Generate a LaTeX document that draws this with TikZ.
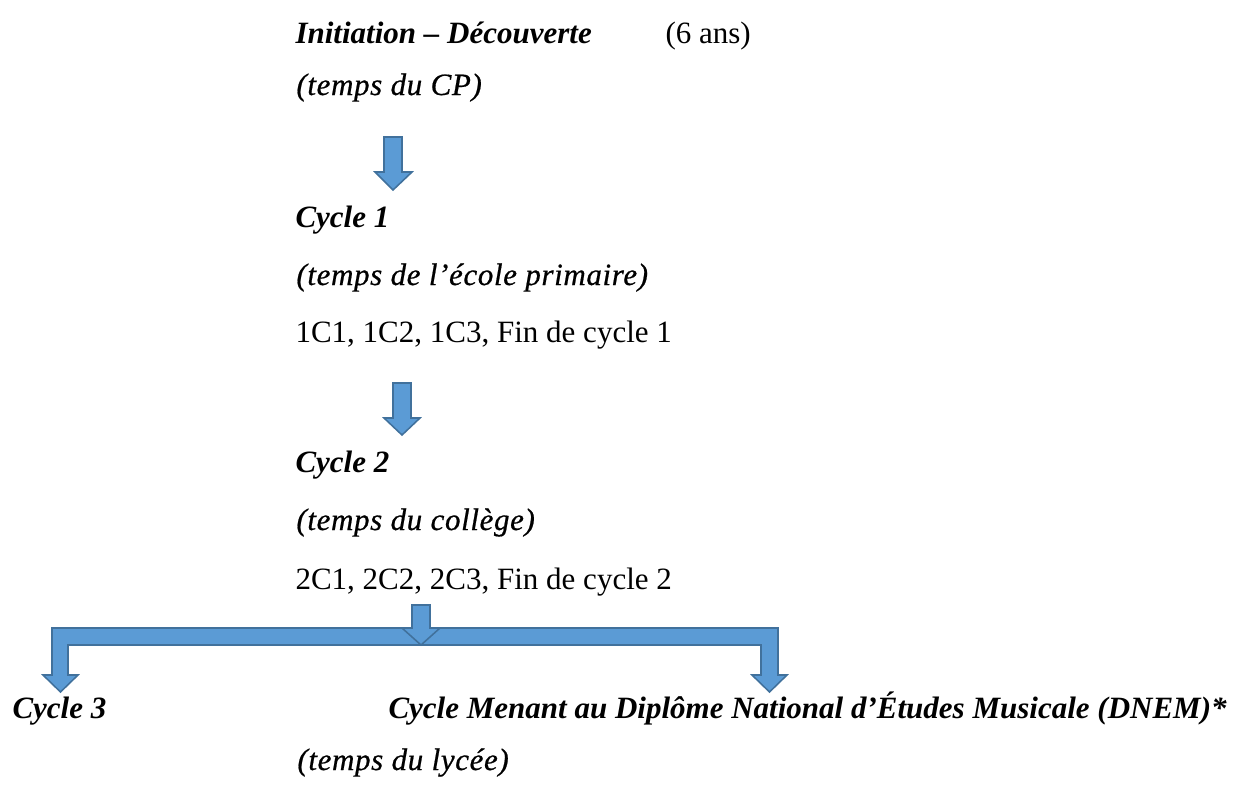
\documentclass[tikz,border=0pt]{standalone}
\usepackage{fontspec}
\setmainfont{Liberation Serif}
\newfontfamily\tempsfont[LetterSpace=2,FakeBold=0.6]{Liberation Serif Italic}
\usepackage{tikz}
\usetikzlibrary{positioning,calc}

\definecolor{arrowfill}{HTML}{5B9BD5}
\definecolor{arrowline}{HTML}{41719C}

\tikzset{
  txt/.style={anchor=base west,inner sep=0pt,font=\fontsize{12}{14}\selectfont},
  titre/.style={txt,font=\fontsize{12}{14}\selectfont\bfseries\itshape},
  temps/.style={txt,font=\fontsize{12}{14}\selectfont\tempsfont},
  blockarrow/.style={fill=arrowfill,draw=arrowline,line width=0.6pt,line join=miter}
}

\begin{document}
\begin{tikzpicture}[x=0.387pt,y=-0.387pt]
                    \useasboundingbox (0,0) rectangle (1256,787);

                    % textes
                    \node[titre] (init) at (295,43) {Initiation -- Découverte};
                    \node[txt] (age) at (665,43) {(6 ans)};
                    \node[temps] (tcp) at (296,95) {(temps du CP)};
                    \node[titre] (cyc1) at (295,227) {Cycle 1};
                    \node[temps] (tprim) at (296,285) {(temps de l’école primaire)};
                    \node[txt] (niv1) at (295,342) {1C1, 1C2, 1C3, Fin de cycle 1};
                    \node[titre] (cyc2) at (295,472) {Cycle 2};
                    \node[temps] (tcol) at (296,530) {(temps du collège)};
                    \node[txt] (niv2) at (295,589) {2C1, 2C2, 2C3, Fin de cycle 2};
                    \node[titre] (cyc3) at (12,718) {Cycle 3};
                    \node[titre] (dnem) at (388,718) {Cycle Menant au Diplôme National d’Études Musicale (DNEM)*};
                    \node[temps] (tlyc) at (297,770) {(temps du lycée)};

                    % fleches
                    \draw[blockarrow] (384,137) -- (402,137) -- (402,172) -- (412,172)
                        -- (393,190) -- (375,172) -- (384,172) -- cycle;
                    \draw[blockarrow] (393,383) -- (411,383) -- (411,418) -- (420,418)
                        -- (402,435) -- (384,418) -- (393,418) -- cycle;

                    \draw[blockarrow] (52,628) -- (778,628) -- (778,675) -- (787,675)
                        -- (769.5,692) -- (752,675) -- (761,675) -- (761,645)
                        -- (68,645) -- (68,675) -- (78,675) -- (60.5,692)
                        -- (43,675) -- (52,675) -- cycle;
                    \draw[blockarrow] (412,605) -- (430,605) -- (430,628) -- (440,628)
                        -- (421,645) -- (402,628) -- (412,628) -- cycle;
                \end{tikzpicture}
\end{document}
